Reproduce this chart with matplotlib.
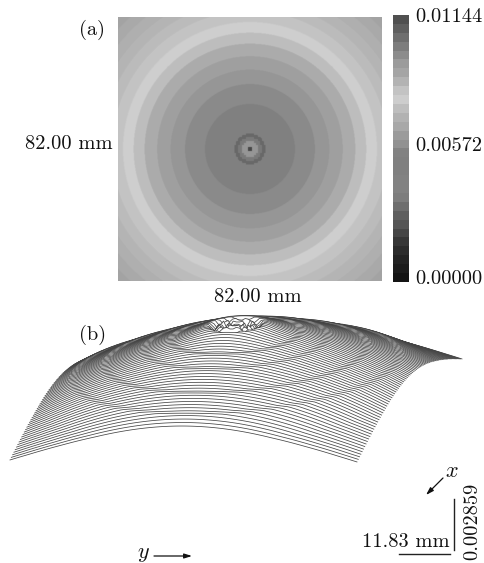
import numpy as np
import matplotlib
matplotlib.use("Agg")
import matplotlib.pyplot as plt

plt.rcParams['font.family'] = ['cmr10', 'DejaVu Serif']
plt.rcParams['mathtext.fontset'] = 'cm'
plt.rcParams['axes.formatter.use_mathtext'] = True

W, H = 484, 563

# Panel (a): radial rings
side_mm = 82.0
ring_edges_mm = [0.9, 2.5, 3.6, 4.9, 14.0, 20.2, 24.7, 28.9, 32.8, 36.2, 39.5,
                 42.9, 46.0, 49.1, 52.3, 55.4, 60.0]
ring_gray = [70, 150, 122, 104, 128, 138, 150, 160, 172, 190, 206,
             196, 188, 181, 175, 169, 163]
colorbar_gray_top_down = [80, 95, 110, 125, 140, 155, 165, 180, 195, 205,
                          190, 178, 168, 155, 145, 130, 128, 128, 130, 130,
                          125, 110, 95, 85, 70, 55, 45, 35, 28, 20]
colorbar_ticks = ["0.01144", "0.00572", "0.00000"]

# Panel (b): height profile against radius
profile_r_mm = [0, 0.9, 1.8, 2.8, 3.8, 5, 6.2, 7.4, 10, 14, 15.6, 20, 21.6, 28.9, 30.5,
                36.2, 37.8, 41, 46, 50, 55, 58]
profile_z = [.0054, .0046, .0050, .0044, .0050, .0045, .0049, .00485, .0046, .00425, .00423,
             .00385, .00380, .00312, .00307, .00248, .00240, .00200, .00135, .00088,
             .00032, .00000]
n_lines = 82
n_samples = 110

fig = plt.figure(figsize=(W / 100, H / 100), dpi=100, facecolor='white')


def px_axes(x0, y0, x1, y1):
    return fig.add_axes([x0 / W, 1 - y1 / H, (x1 - x0) / W, (y1 - y0) / H])


# ---- panel (a)
ax_a = px_axes(118, 17, 382, 281)
grid = np.linspace(-side_mm / 2, side_mm / 2, 132)
gx, gy = np.meshgrid(grid, grid)
rr = np.hypot(gx, gy)
idx = np.clip(np.searchsorted(ring_edges_mm, rr), 0, len(ring_gray) - 1)
fine = np.linspace(-side_mm / 2, side_mm / 2, 528)
fx, fy = np.meshgrid(fine, fine)
frr = np.hypot(fx, fy)
fidx = np.clip(np.searchsorted(ring_edges_mm, frr), 0, len(ring_gray) - 1)
fimg = np.array(ring_gray, float)[fidx]
inner = frr < ring_edges_mm[3]
fimg[inner] = np.array(ring_gray, float)[idx].repeat(4, 0).repeat(4, 1)[inner]
ax_a.imshow(fimg, cmap='gray', vmin=0, vmax=255, interpolation='bilinear',
            extent=(-41, 41, -41, 41))
ax_a.axis('off')

# ---- colorbar
ax_c = px_axes(393, 15, 409, 282)
ax_c.imshow(np.array(colorbar_gray_top_down, float)[:, None], cmap='gray', vmin=0, vmax=255,
            aspect='auto', interpolation='nearest')
ax_c.axis('off')

# ---- overlay in pixel coordinates
ax = fig.add_axes([0, 0, 1, 1], zorder=5)
ax.set_xlim(0, W)
ax.set_ylim(H, 0)
ax.axis('off')
ax.patch.set_alpha(0)

# oblique projection: front-left corner, y direction, x direction, height scale
origin = np.array([10.0, 460.0])
ey = np.array([347.0, 2.0]) / side_mm
ex = np.array([105.0, -103.0]) / side_mm
z_scale = 50 / 0.002859

xs = np.linspace(-side_mm / 2, side_mm / 2, n_lines)
ys = np.linspace(-side_mm / 2, side_mm / 2, n_samples)
for x_mm in xs:
    r = np.hypot(x_mm, ys)
    z = np.interp(r, profile_r_mm, profile_z)
    px = origin[0] + (ys + 41) * ey[0] + (41 - x_mm) * ex[0]
    base = origin[1] + (ys + 41) * ey[1] + (41 - x_mm) * ex[1]
    py = base - z * z_scale
    ax.fill_between(px, py, base + 1, color='white', lw=0, zorder=2)
    ax.plot(px, py, color='#444444', lw=0.55, zorder=2, solid_joinstyle='miter')

ts = 14.7
tk = dict(color='#111111', fontsize=ts, zorder=6)
ax.text(79, 30, "(a)", ha='left', va='center', **tk)
ax.text(79, 335, "(b)", ha='left', va='center', **tk)
ax.text(68.5, 144, "82.00 mm", ha='center', va='center', **tk)
ax.text(258, 297, "82.00 mm", ha='center', va='center', **tk)
for label, yy in zip(colorbar_ticks, [17, 146, 279]):
    ax.text(415, yy, label, ha='left', va='center', **tk)
ax.text(406, 542, "11.83 mm", ha='center', va='center', **tk)
ax.text(472, 521, "0.002859", rotation=90, ha='center', va='center', **tk)
ax.text(452, 471, r"$x$", ha='center', va='center', color='#111111', fontsize=16, zorder=6)
ax.text(143, 554, r"$y$", ha='center', va='center', color='#111111', fontsize=16, zorder=6)

ax.plot([399, 450], [554, 554], color='#222222', lw=1.0, zorder=6)
ax.plot([454, 454], [499, 550], color='#222222', lw=1.0, zorder=6)
arrow = dict(arrowstyle='-|>,head_length=0.45,head_width=0.14', color='#111111', lw=0.9,
             shrinkA=0, shrinkB=0)
ax.annotate("", xy=(426, 495), xytext=(443, 478), arrowprops=arrow, zorder=6)
ax.annotate("", xy=(192, 556), xytext=(154, 556), arrowprops=arrow, zorder=6)

fig.savefig("out.png", dpi=100, facecolor='white')
